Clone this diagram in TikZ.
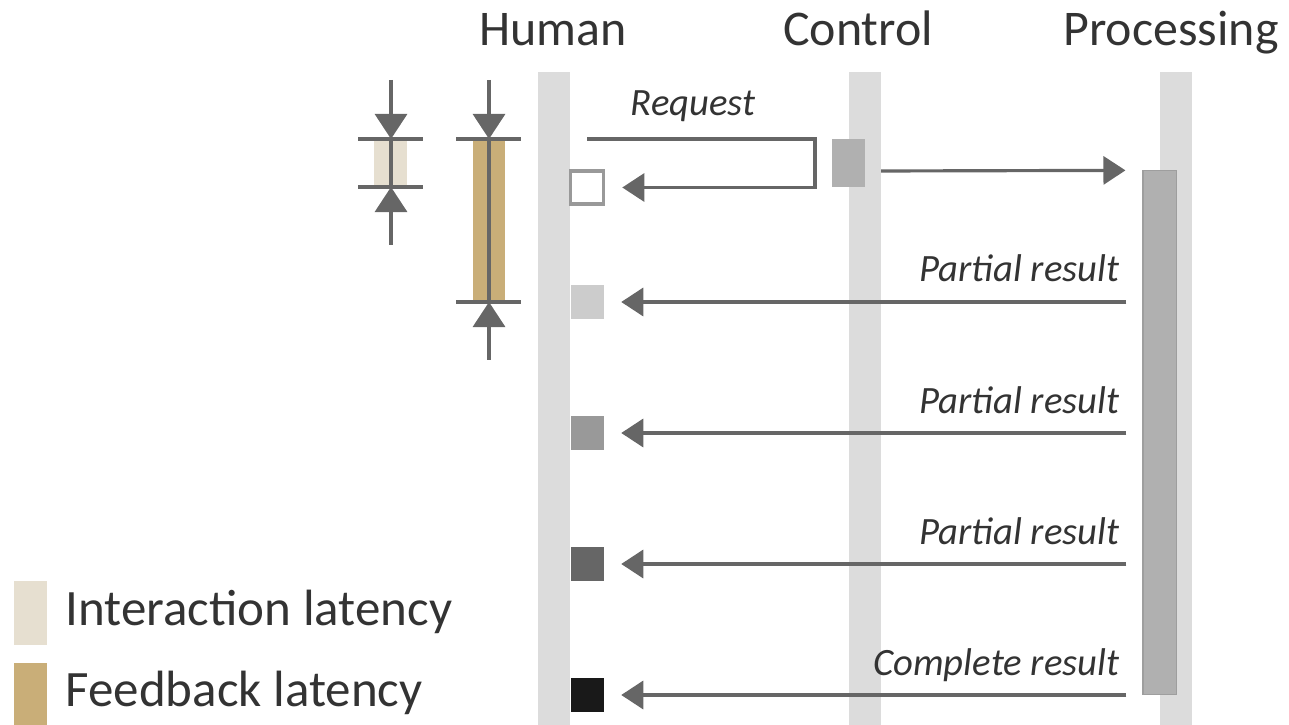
\documentclass[tikz,border=0pt]{standalone}
\usepackage{fontspec}
\setmainfont{Carlito}
\usetikzlibrary{arrows.meta}

\definecolor{lane}{HTML}{DCDCDC}
\definecolor{busy}{HTML}{B0B0B0}
\definecolor{ink}{HTML}{666666}
\definecolor{txt}{HTML}{333333}
\definecolor{interlat}{HTML}{E6DFD0}
\definecolor{feedlat}{HTML}{C9AE78}

\begin{document}
\begin{tikzpicture}[x=0.01cm, y=-0.01cm,
    lane/.style={fill=lane, inner sep=0, minimum width=0.32cm, minimum height=6.53cm},
    head/.style={text=txt, font=\fontsize{14.2}{16}\selectfont, anchor=base},
    busybox/.style={fill=busy, inner sep=0, minimum width=0.33cm},
    fb/.style={inner sep=0, minimum size=0.33cm},
    flow/.style={draw=ink, line width=0.9pt, -{Triangle[width=0.28cm, length=0.22cm]}},
    msg/.style={text=txt, inner sep=0, font=\fontsize{11}{13}\selectfont\itshape, anchor=base east},
    tick/.style={draw=ink, line width=0.9pt},
    pin/.style={draw=ink, line width=0.9pt, -{Triangle[width=0.32cm, length=0.25cm]}},
    legend/.style={text=txt, inner sep=0, font=\fontsize{14.5}{16}\selectfont, anchor=base west}]

    \useasboundingbox (0,0) rectangle (1289,725);

    % lifelines
    \node[lane] (human) at (554,398.5) {};
    \node[lane] (control) at (865,398.5) {};
    \node[lane] (processing) at (1176,398.5) {};

    \node[head] (humanlbl) at (553,46) {Human};
    \node[head] (controllbl) at (858,46) {Control};
    \node[head] (processinglbl) at (1171,46) {Processing};

    % activations
    \node[busybox, minimum height=0.48cm] (ctlact) at (848,163) {};
    \node[busybox, draw=busy!90!black, line width=0.3pt, minimum height=5.23cm] (proc) at (1159.5,432.5) {};

    % feedback squares on the human side
    \node[fb, draw=gray!80, line width=1pt, fill=white] (f0) at (587,187.5) {};
    \node[fb, fill=black!20] (f1) at (587,302) {};
    \node[fb, fill=black!40] (f2) at (587,433) {};
    \node[fb, fill=black!60] (f3) at (587,564) {};
    \node[fb, fill=black!90] (f4) at (587,695) {};

    % request and forwarding
    \coordinate (req) at (587,139);
    \coordinate (send) at (881,171);
    \draw[flow, shorten >=0.17cm] (req) -| (815,187.5) -- (f0.east);
    \node[text=txt, inner sep=0, font=\fontsize{11}{13}\selectfont\itshape, anchor=base] (reqlbl) at (693,116) {Request};
    \draw[flow, shorten >=0.17cm] (send) -- (proc.north west);

    % results coming back
    \draw[flow, shorten <=0.16cm, shorten >=0.17cm] (proc.west |- f1) -- (f1.east);
    \draw[flow, shorten <=0.16cm, shorten >=0.17cm] (proc.west |- f2) -- (f2.east);
    \draw[flow, shorten <=0.16cm, shorten >=0.17cm] (proc.west |- f3) -- (f3.east);
    \draw[flow, shorten <=0.16cm, shorten >=0.17cm] (proc.west |- f4) -- (f4.east);
    \node[msg] (r1) at (1120,282) {Partial result};
    \node[msg] (r2) at (1120,413) {Partial result};
    \node[msg] (r3) at (1120,544) {Partial result};
    \node[msg] (r4) at (1120,675) {Complete result};

    % interaction latency marker
    \fill[interlat] (374,139) rectangle (407,187);
    \draw[tick] (358,139) -- (423,139);
    \draw[tick] (358,187) -- (423,187);
    \draw[tick] (391,139) -- (391,187);
    \draw[pin] (391,80) -- (391,139);
    \draw[pin] (391,245) -- (391,187);

    % feedback latency marker
    \fill[feedlat] (473,139) rectangle (505,302);
    \draw[tick] (456,139) -- (521,139);
    \draw[tick] (456,302) -- (521,302);
    \draw[tick] (489,139) -- (489,302);
    \draw[pin] (489,80) -- (489,139);
    \draw[pin] (489,360) -- (489,302);

    % legend
    \fill[interlat] (14,581) rectangle (47,645);
    \fill[feedlat] (14,663) rectangle (47,725);
    \node[legend] (leg1) at (65,625) {Interaction latency};
    \node[legend] (leg2) at (65,706) {Feedback latency};
\end{tikzpicture}
\end{document}
